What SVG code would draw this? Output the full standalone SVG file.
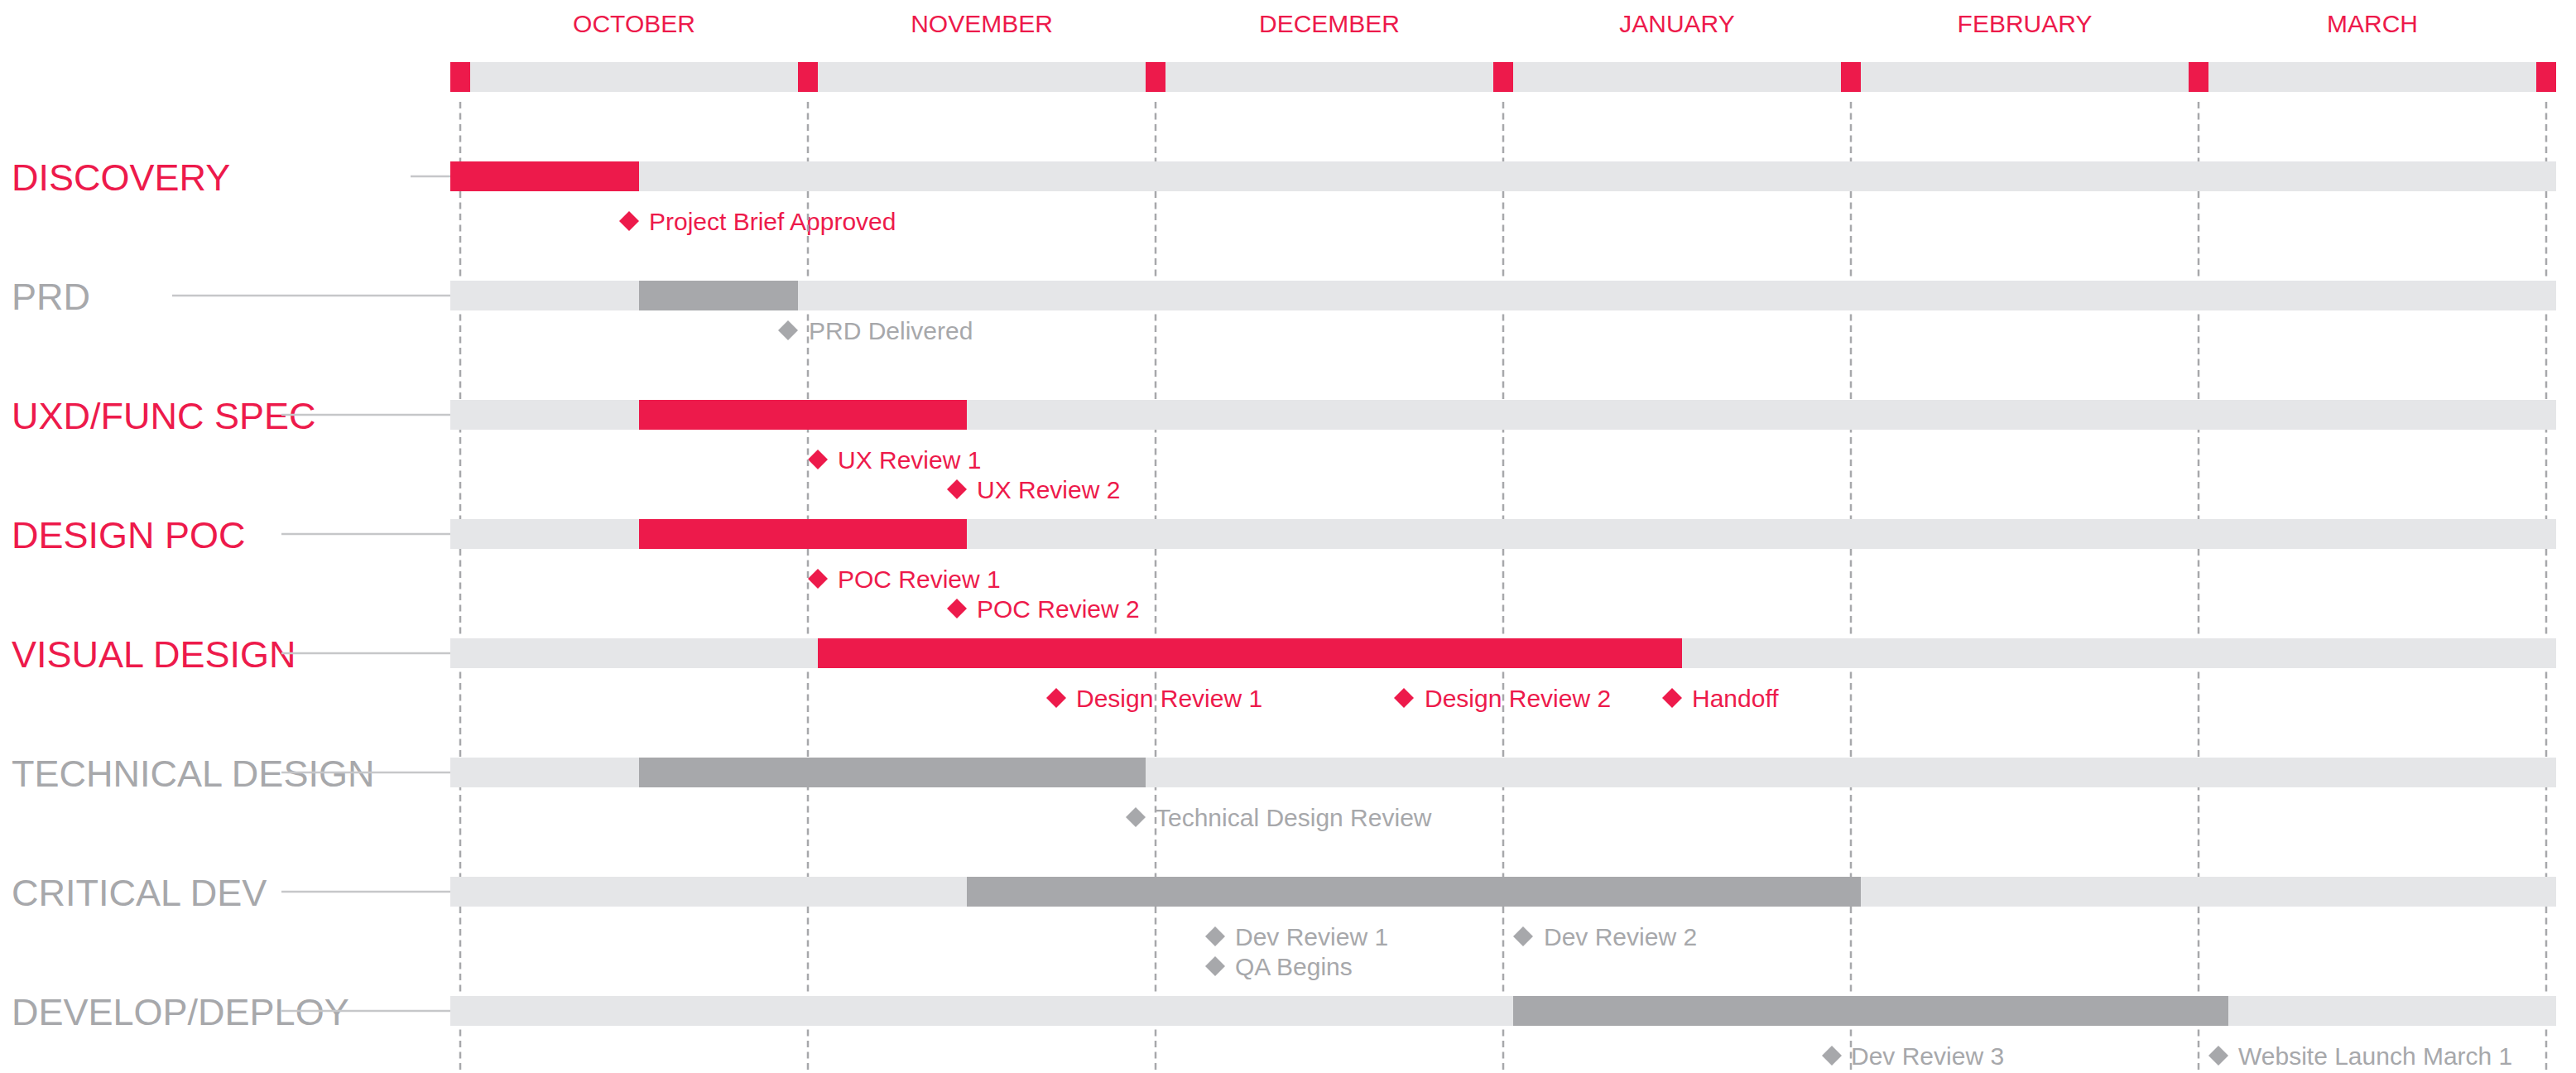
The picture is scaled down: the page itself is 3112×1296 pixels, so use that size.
<svg xmlns="http://www.w3.org/2000/svg" xmlns:xlink="http://www.w3.org/1999/xlink" width="3112" height="1296" viewBox="0 0 3112 1296">
<defs>
<style>
text{font-family:"Liberation Sans",Arial,sans-serif}
.month{font-size:30px;fill:#ED1A4B;text-anchor:middle}
.lbl{font-size:45px}
.ms{font-size:30px}
.red{fill:#ED1A4B}
.gry{fill:#A7A8AB}
.track{fill:#E5E6E8}
.tick{fill:#ED1A4B}
.grid{stroke:#A7A8AB;stroke-width:2.5;stroke-dasharray:8 5.5;fill:none}
.lead{stroke:#C6C7C9;stroke-width:2.5;fill:none}
</style>
<path id="dia" d="M0,-12 L12,0 L0,12 L-12,0 Z"/>
</defs>
<rect width="3112" height="1296" fill="#FFFFFF"/>

<g id="months">
<text class="month" x="766" y="39">OCTOBER</text>
<text class="month" x="1186" y="39">NOVEMBER</text>
<text class="month" x="1606" y="39">DECEMBER</text>
<text class="month" x="2026" y="39">JANUARY</text>
<text class="month" x="2446" y="39">FEBRUARY</text>
<text class="month" x="2866" y="39">MARCH</text>
</g>

<g id="milestones">
<use xlink:href="#dia" x="760" y="267" class="red"/><text class="ms red" x="784" y="278">Project Brief Approved</text>
<use xlink:href="#dia" x="952" y="399" class="gry"/><text class="ms gry" x="977" y="410">PRD Delivered</text>
<use xlink:href="#dia" x="988" y="555" class="red"/><text class="ms red" x="1012" y="566">UX Review 1</text>
<use xlink:href="#dia" x="1156" y="591" class="red"/><text class="ms red" x="1180" y="602">UX Review 2</text>
<use xlink:href="#dia" x="988" y="699" class="red"/><text class="ms red" x="1012" y="710">POC Review 1</text>
<use xlink:href="#dia" x="1156" y="735" class="red"/><text class="ms red" x="1180" y="746">POC Review 2</text>
<use xlink:href="#dia" x="1276" y="843" class="red"/><text class="ms red" x="1300" y="854">Design Review 1</text>
<use xlink:href="#dia" x="1696" y="843" class="red"/><text class="ms red" x="1721" y="854">Design Review 2</text>
<use xlink:href="#dia" x="2020" y="843" class="red"/><text class="ms red" x="2044" y="854">Handoff</text>
<use xlink:href="#dia" x="1372" y="987" class="gry"/><text class="ms gry" x="1396" y="998">Technical Design Review</text>
<use xlink:href="#dia" x="1468" y="1131" class="gry"/><text class="ms gry" x="1492" y="1142">Dev Review 1</text>
<use xlink:href="#dia" x="1468" y="1167" class="gry"/><text class="ms gry" x="1492" y="1178">QA Begins</text>
<use xlink:href="#dia" x="1840" y="1131" class="gry"/><text class="ms gry" x="1865" y="1142">Dev Review 2</text>
<use xlink:href="#dia" x="2213" y="1275" class="gry"/><text class="ms gry" x="2236" y="1286">Dev Review 3</text>
<use xlink:href="#dia" x="2680" y="1275" class="gry"/><text class="ms gry" x="2704" y="1286">Website Launch March 1</text>
</g>

<g id="labels">
<text class="lbl red" x="14" y="230">DISCOVERY</text>
<text class="lbl gry" x="14" y="374">PRD</text>
<text class="lbl red" x="14" y="518">UXD/FUNC SPEC</text>
<text class="lbl red" x="14" y="662">DESIGN POC</text>
<text class="lbl red" x="14" y="806">VISUAL DESIGN</text>
<text class="lbl gry" x="14" y="950">TECHNICAL DESIGN</text>
<text class="lbl gry" x="14" y="1094">CRITICAL DEV</text>
<text class="lbl gry" x="14" y="1238">DEVELOP/DEPLOY</text>
</g>

<g id="connectors">
<line class="lead" x1="496" y1="213" x2="544" y2="213"/>
<line class="lead" x1="208" y1="357" x2="544" y2="357"/>
<line class="lead" x1="340" y1="501" x2="544" y2="501"/>
<line class="lead" x1="340" y1="645" x2="544" y2="645"/>
<line class="lead" x1="340" y1="789" x2="544" y2="789"/>
<line class="lead" x1="340" y1="933" x2="544" y2="933"/>
<line class="lead" x1="340" y1="1077" x2="544" y2="1077"/>
<line class="lead" x1="340" y1="1221" x2="544" y2="1221"/>
<line class="grid" x1="556" y1="123" x2="556" y2="1296"/>
<line class="grid" x1="976" y1="123" x2="976" y2="1296"/>
<line class="grid" x1="1396" y1="123" x2="1396" y2="1296"/>
<line class="grid" x1="1816" y1="123" x2="1816" y2="1296"/>
<line class="grid" x1="2236" y1="123" x2="2236" y2="1296"/>
<line class="grid" x1="2656" y1="123" x2="2656" y2="1296"/>
<line class="grid" x1="3076" y1="123" x2="3076" y2="1296"/>
</g>

<g id="timeline-header">
<rect class="track" x="544" y="75" width="2544" height="36"/>
<rect class="tick" x="544" y="75" width="24" height="36"/>
<rect class="tick" x="964" y="75" width="24" height="36"/>
<rect class="tick" x="1384" y="75" width="24" height="36"/>
<rect class="tick" x="1804" y="75" width="24" height="36"/>
<rect class="tick" x="2224" y="75" width="24" height="36"/>
<rect class="tick" x="2644" y="75" width="24" height="36"/>
<rect class="tick" x="3064" y="75" width="24" height="36"/>
</g>

<g id="row-discovery">
<rect class="track" x="544" y="195" width="2544" height="36"/>
<rect class="red" x="544" y="195" width="228" height="36"/>
</g>
<g id="row-prd">
<rect class="track" x="544" y="339" width="2544" height="36"/>
<rect class="gry" x="772" y="339" width="192" height="36"/>
</g>
<g id="row-uxd">
<rect class="track" x="544" y="483" width="2544" height="36"/>
<rect class="red" x="772" y="483" width="396" height="36"/>
</g>
<g id="row-design-poc">
<rect class="track" x="544" y="627" width="2544" height="36"/>
<rect class="red" x="772" y="627" width="396" height="36"/>
</g>
<g id="row-visual-design">
<rect class="track" x="544" y="771" width="2544" height="36"/>
<rect class="red" x="988" y="771" width="1044" height="36"/>
</g>
<g id="row-technical-design">
<rect class="track" x="544" y="915" width="2544" height="36"/>
<rect class="gry" x="772" y="915" width="612" height="36"/>
</g>
<g id="row-critical-dev">
<rect class="track" x="544" y="1059" width="2544" height="36"/>
<rect class="gry" x="1168" y="1059" width="1080" height="36"/>
</g>
<g id="row-develop-deploy">
<rect class="track" x="544" y="1203" width="2544" height="36"/>
<rect class="gry" x="1828" y="1203" width="864" height="36"/>
</g>
</svg>
